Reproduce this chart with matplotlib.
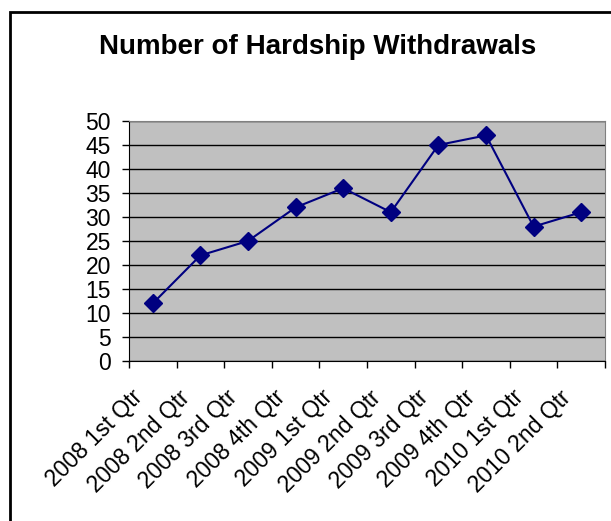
import matplotlib.pyplot as plt
from matplotlib.patches import Rectangle
from matplotlib.ticker import FixedLocator
from matplotlib.transforms import ScaledTranslation

plt.rcParams['font.family'] = ['Liberation Sans', 'DejaVu Sans']

quarters = ['2008 1st Qtr', '2008 2nd Qtr', '2008 3rd Qtr', '2008 4th Qtr',
            '2009 1st Qtr', '2009 2nd Qtr', '2009 3rd Qtr', '2009 4th Qtr',
            '2010 1st Qtr', '2010 2nd Qtr']
withdrawals = [12, 22, 25, 32, 36, 31, 45, 47, 28, 31]

fig = plt.figure(figsize=(6.11, 5.21), dpi=100)
ax = fig.add_axes([129 / 611, 1 - 361 / 521, 476 / 611, 240 / 521])

# chart frame (runs off the right and bottom edges)
fig.patches.append(Rectangle((10 / 611, -0.05), 1.05, 1 - 12 / 521 + 0.05,
                             transform=fig.transFigure, fill=False,
                             edgecolor='black', linewidth=2))

ax.set_facecolor('#C0C0C0')
x = range(len(quarters))
ax.plot(x, withdrawals, color='#000080', linewidth=1.5, marker='D',
        markersize=9, markerfacecolor='#000080', zorder=3)

ax.set_ylim(0, 50)
ax.set_yticks(range(0, 51, 5))
ax.yaxis.grid(True, color='black', linewidth=1)
ax.set_axisbelow(True)

ax.set_xlim(-0.5, len(quarters) - 0.5)
ax.set_xticks(list(x))
ax.set_xticklabels(quarters, rotation=45, ha='right', rotation_mode='anchor')
ax.xaxis.set_minor_locator(FixedLocator([i - 0.5 for i in range(len(quarters) + 1)]))
ax.tick_params(axis='x', which='major', length=0, pad=18, labelsize=16.5)
ax.tick_params(axis='x', which='minor', length=5, direction='out', width=1)
ax.tick_params(axis='y', length=5, direction='out', width=1, labelsize=16.5, pad=8)

# shift labels a little left, like Excel does
shift = ScaledTranslation(-0.22, 0, fig.dpi_scale_trans)
for lbl in ax.get_xticklabels():
    lbl.set_transform(lbl.get_transform() + shift)

for side in ['top', 'right']:
    ax.spines[side].set_color('#808080')
for side in ['left', 'bottom']:
    ax.spines[side].set_color('black')

fig.text(318 / 611, 1 - 47 / 521, 'Number of Hardship Withdrawals',
         ha='center', va='center', fontsize=20, fontweight='bold')

fig.savefig('out.png', dpi=100)
